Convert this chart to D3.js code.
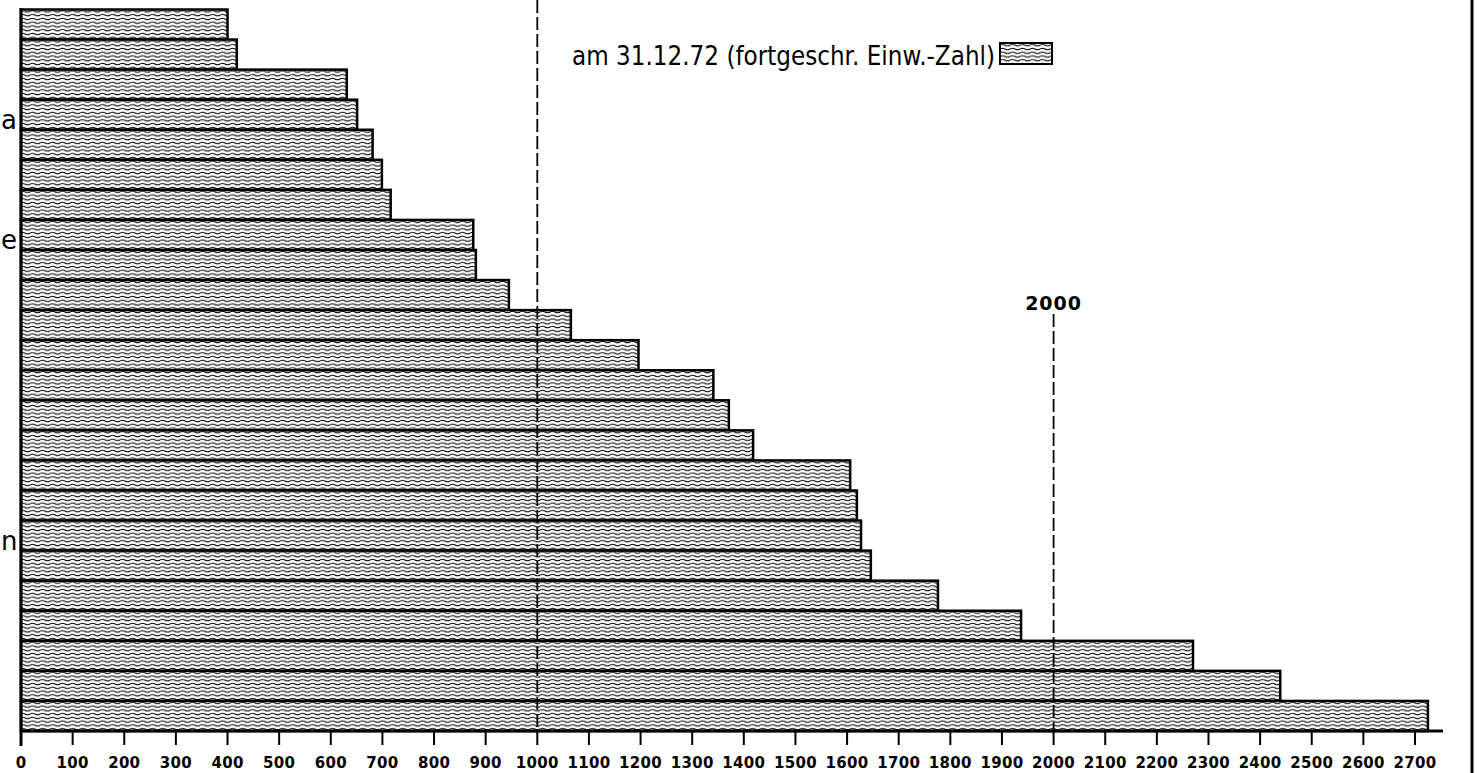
<!doctype html>
<html>
<head>
<meta charset="UTF-8">
<title>Einwohner 31.12.72</title>
<script src="https://d3js.org/d3.v7.min.js"></script>
<style>
  body { margin: 0; background: #fff; }
  text { font-family: "DejaVu Sans", sans-serif; fill: #000; }
</style>
</head>
<body>
<svg class="chart" width="1483" height="773"></svg>
<script>
    // Werte je Balken (von oben nach unten)
    var values = [400, 418, 631, 651, 681, 699, 716, 876, 881, 945, 1065, 1196, 1341, 1371, 1418,
                  1606, 1619, 1627, 1646, 1776, 1937, 2270, 2439, 2725];
    // Namen sind im Bild links abgeschnitten, nur Reste sichtbar
    var labels = ["", "", "", "a", "", "", "", "e", "", "", "", "", "", "", "", "", "", "n", "", "", "", "", "", ""];
    var tickValues = [0, 100, 200, 300, 400, 500, 600, 700, 800, 900, 1000, 1100, 1200, 1300,
                      1400, 1500, 1600, 1700, 1800, 1900, 2000, 2100, 2200, 2300, 2400, 2500, 2600, 2700];
    var refLines = [1000, 2000];
    var legendText = "am 31.12.72 (fortgeschr. Einw.-Zahl)";

    var svg = d3.select(".chart");
    var x = d3.scaleLinear().domain([0, 2700]).range([21, 1415]);
    var y = d3.scaleBand().domain(d3.range(values.length)).range([9.5, 731]).padding(0);
    var axisY = 731;

    // Wellenraster
    var defs = svg.append("defs");
    var pat = defs.append("pattern")
        .attr("id", "wave")
        .attr("patternUnits", "userSpaceOnUse")
        .attr("x", 0).attr("y", 9.5)
        .attr("width", 10).attr("height", y.bandwidth() / 8);
    pat.append("rect").attr("width", 10).attr("height", y.bandwidth() / 8).attr("fill", "#fff");
    pat.append("path")
        .attr("d", "M0,1.9 Q2.5,0.4 5,1.9 T10,1.9")
        .attr("fill", "none").attr("stroke", "#000").attr("stroke-width", 1);

    // Balken
    svg.append("g").selectAll("rect")
        .data(values)
        .enter().append("rect")
        .attr("x", x(0))
        .attr("y", function (d, i) { return y(i); })
        .attr("width", function (d) { return x(d) - x(0); })
        .attr("height", y.bandwidth())
        .attr("fill", "url(#wave)")
        .attr("stroke", "#000")
        .attr("stroke-width", 2.5);

    // abgeschnittene Namen links
    svg.append("g").selectAll("text")
        .data(labels)
        .enter().append("text")
        .attr("x", 1)
        .attr("y", function (d, i) { return y(i) + y.bandwidth() - 1; })
        .attr("text-anchor", "start")
        .attr("font-size", 26)
        .text(function (d) { return d; });

    // Hilfslinien 1000 und 2000
    svg.append("line")
        .attr("x1", x(refLines[0])).attr("x2", x(refLines[0]))
        .attr("y1", 0).attr("y2", axisY)
        .attr("stroke", "#000").attr("stroke-width", 1.8)
        .attr("stroke-dasharray", "13,4");
    svg.append("line")
        .attr("x1", x(refLines[1])).attr("x2", x(refLines[1]))
        .attr("y1", 314).attr("y2", axisY)
        .attr("stroke", "#000").attr("stroke-width", 1.8)
        .attr("stroke-dasharray", "13,4");
    svg.append("text")
        .attr("x", x(refLines[1]))
        .attr("y", 310)
        .attr("text-anchor", "middle")
        .attr("font-size", 19)
        .attr("font-weight", "bold")
        .attr("letter-spacing", 1)
        .text(refLines[1]);

    // x-Achse: Striche und Zahlen
    var ticks = svg.append("g");
    ticks.selectAll("line")
        .data(tickValues)
        .enter().append("line")
        .attr("x1", function (d) { return x(d); })
        .attr("x2", function (d) { return x(d); })
        .attr("y1", axisY)
        .attr("y2", axisY + 14)
        .attr("stroke", "#000")
        .attr("stroke-width", 2);
    ticks.selectAll("text")
        .data(tickValues)
        .enter().append("text")
        .attr("x", function (d) { return x(d); })
        .attr("y", axisY + 37)
        .attr("text-anchor", "middle")
        .attr("font-size", 15)
        .attr("font-weight", "bold")
        .attr("letter-spacing", 0.3)
        .text(function (d) { return d; });

    svg.append("line")
        .attr("x1", x(0) - 1).attr("x2", 1443)
        .attr("y1", axisY).attr("y2", axisY)
        .attr("stroke", "#000").attr("stroke-width", 3);
    svg.append("line")
        .attr("x1", x(0)).attr("x2", x(0))
        .attr("y1", 8).attr("y2", 746)
        .attr("stroke", "#000").attr("stroke-width", 3);

    // rechter Rahmen
    svg.append("line")
        .attr("x1", 1472).attr("x2", 1472)
        .attr("y1", 0).attr("y2", 773)
        .attr("stroke", "#000").attr("stroke-width", 3);

    // Legende
    svg.append("text")
        .attr("x", 572)
        .attr("y", 65)
        .attr("font-size", 27)
        .attr("textLength", 423)
        .attr("lengthAdjust", "spacingAndGlyphs")
        .text(legendText);
    svg.append("rect")
        .attr("x", 1000).attr("y", 43)
        .attr("width", 52).attr("height", 21)
        .attr("fill", "url(#wave)")
        .attr("stroke", "#000").attr("stroke-width", 2);
</script>
</body>
</html>
